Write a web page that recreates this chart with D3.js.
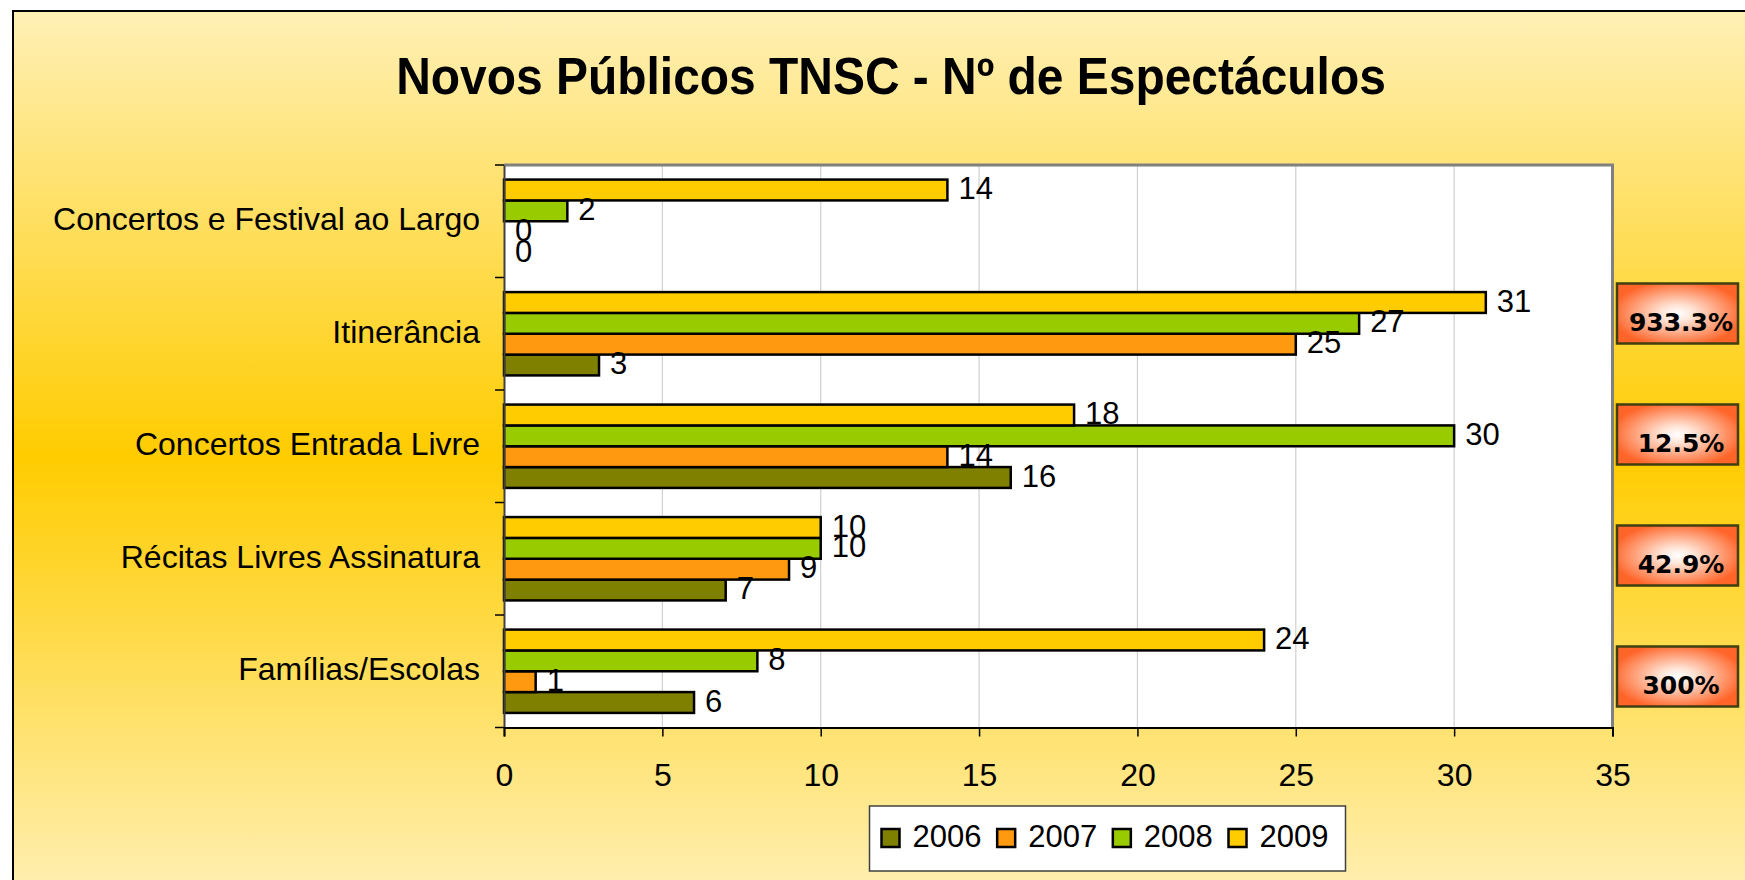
<!DOCTYPE html>
<html>
<head>
<meta charset="utf-8">
<script src="https://cdn.jsdelivr.net/npm/d3@7"></script>
<style>
  html, body { margin: 0; padding: 0; background: #ffffff; }
  svg { display: block; }
</style>
</head>
<body>
<svg id="chart" width="1745" height="880"></svg>
<script>
// ---- data ----
const categories = ["Concertos e Festival ao Largo", "Itinerância", "Concertos Entrada Livre", "Récitas Livres Assinatura", "Famílias/Escolas"];
const seriesNames = ["2006", "2007", "2008", "2009"];
const values2006 = [0, 3, 16, 7, 6];
const values2007 = [0, 25, 14, 9, 1];
const values2008 = [2, 27, 30, 10, 8];
const values2009 = [14, 31, 18, 10, 24];
const xTicks = [0, 5, 10, 15, 20, 25, 30, 35];
const growthLabels = ["933.3%", "12.5%", "42.9%", "300%"];
const title = "Novos Públicos TNSC - Nº de Espectáculos";

const seriesValues = { "2006": values2006, "2007": values2007, "2008": values2008, "2009": values2009 };
const colors = { "2006": "#808000", "2007": "#FF9A10", "2008": "#99CC00", "2009": "#FFCC00" };

const svg = d3.select("#chart");
const defs = svg.append("defs");

// background gradient
const bg = defs.append("linearGradient").attr("id", "bgGrad")
  .attr("x1", 0).attr("y1", 0).attr("x2", 0).attr("y2", 1);
bg.append("stop").attr("offset", "0%").attr("stop-color", "#FFF0B6");
bg.append("stop").attr("offset", "50%").attr("stop-color", "#FFCC00");
bg.append("stop").attr("offset", "100%").attr("stop-color", "#FFF0B6");

// badge gradient
const bd = defs.append("radialGradient").attr("id", "badgeGrad")
  .attr("cx", "50%").attr("cy", "50%").attr("r", "55%");
bd.append("stop").attr("offset", "0%").attr("stop-color", "#FFFFFF");
bd.append("stop").attr("offset", "25%").attr("stop-color", "#FFE4D6");
bd.append("stop").attr("offset", "100%").attr("stop-color", "#FF6428");

// frame
svg.append("rect")
  .attr("x", 13).attr("y", 11).attr("width", 1760).attr("height", 890)
  .attr("fill", "url(#bgGrad)").attr("stroke", "#000").attr("stroke-width", 2);

// title (slightly condensed, as in the reference)
svg.append("text")
  .attr("transform", "translate(891,94) scale(0.94,1)")
  .attr("text-anchor", "middle")
  .attr("font-family", "'Liberation Sans', Arial, sans-serif")
  .attr("font-weight", "bold").attr("font-size", 51)
  .attr("fill", "#000")
  .text(title);

// plot geometry
const plotLeft = 504, plotRight = 1612.5, plotTop = 165, plotBottom = 727.5;

const x = d3.scaleLinear().domain([0, 35]).range([plotLeft, plotRight]);
const yCat = d3.scaleBand().domain(categories).range([plotTop, plotBottom]).padding(0);
const ySer = d3.scaleBand().domain(["2009", "2008", "2007", "2006"])
  .range([0, yCat.bandwidth()]).paddingInner(0).paddingOuter(0.7);

// plot background
svg.append("rect")
  .attr("x", plotLeft).attr("y", plotTop)
  .attr("width", plotRight - plotLeft).attr("height", plotBottom - plotTop)
  .attr("fill", "#fff");

// gridlines
svg.append("g").selectAll("line")
  .data(xTicks.filter(t => t > 0 && t < 35))
  .join("line")
  .attr("x1", d => x(d)).attr("x2", d => x(d))
  .attr("y1", plotTop).attr("y2", plotBottom)
  .attr("stroke", "#D0D0D0").attr("stroke-width", 1.2);

// plot border top & right
svg.append("path")
  .attr("d", `M${plotLeft},${plotTop}H${plotRight}V${plotBottom}`)
  .attr("fill", "none").attr("stroke", "#808080").attr("stroke-width", 3);

// bars
const groups = svg.append("g").selectAll("g")
  .data(categories)
  .join("g")
  .attr("transform", d => `translate(0,${yCat(d)})`);

const barData = (cat, i) => seriesNames.map(s => ({ s, v: seriesValues[s][i] }));

groups.each(function (cat, i) {
  const g = d3.select(this);
  const data = barData(cat, i);
  g.selectAll("rect")
    .data(data)
    .join("rect")
    .attr("x", x(0))
    .attr("y", d => ySer(d.s))
    .attr("width", d => x(d.v) - x(0))
    .attr("height", ySer.bandwidth())
    .attr("fill", d => colors[d.s])
    .attr("stroke", "#000").attr("stroke-width", 2.5);
});

// axes lines
const yAxis = d3.axisLeft(yCat).tickSize(0).tickFormat("");
svg.append("g").attr("transform", `translate(${plotLeft},0)`).call(yAxis)
  .call(g => g.select(".domain").attr("stroke", "#404040").attr("stroke-width", 2));
// category ticks at boundaries
svg.append("g").selectAll("line")
  .data(d3.range(categories.length + 1))
  .join("line")
  .attr("x1", plotLeft - 9).attr("x2", plotLeft)
  .attr("y1", i => plotTop + i * yCat.step()).attr("y2", i => plotTop + i * yCat.step())
  .attr("stroke", "#000").attr("stroke-width", 1.5);

// category labels
svg.append("g").selectAll("text")
  .data(categories)
  .join("text")
  .attr("x", 480)
  .attr("y", d => yCat(d) + yCat.bandwidth() / 2 + 9)
  .attr("text-anchor", "end")
  .attr("font-family", "'Liberation Sans', Arial, sans-serif")
  .attr("font-size", 32)
  .attr("fill", "#000")
  .text(d => d);

// x axis
const xAxis = d3.axisBottom(x).tickValues(xTicks).tickSize(9).tickPadding(27).tickFormat(d3.format("d"));
svg.append("g").attr("transform", `translate(0,${plotBottom})`).call(xAxis)
  .call(g => g.select(".domain").attr("stroke", "#000").attr("stroke-width", 2))
  .call(g => g.selectAll(".tick line").attr("stroke", "#000").attr("stroke-width", 1.5))
  .call(g => g.selectAll(".tick text")
    .attr("font-family", "'Liberation Sans', Arial, sans-serif")
    .attr("font-size", 32).attr("fill", "#000"));

// value labels
groups.each(function (cat, i) {
  const g = d3.select(this);
  const data = barData(cat, i);
  g.selectAll("text.val")
    .data(data)
    .join("text")
    .attr("class", "val")
    .attr("x", d => x(d.v) + 11)
    .attr("y", d => ySer(d.s) + ySer.bandwidth() / 2 + 9)
    .attr("font-family", "'Liberation Sans', Arial, sans-serif")
    .attr("font-size", 31)
    .attr("fill", "#000")
    .text(d => d.v);
});

// growth badges
const yBadge = d3.scaleLinear().domain([0, growthLabels.length - 1]).range([283.5, 646.5]);
const badges = svg.append("g").selectAll("g")
  .data(growthLabels)
  .join("g")
  .attr("transform", (d, i) => `translate(1617,${yBadge(i)})`);
badges.append("rect")
  .attr("width", 121).attr("height", 60)
  .attr("fill", "url(#badgeGrad)")
  .attr("stroke", "#3F3F10").attr("stroke-width", 2.5);
badges.append("text")
  .attr("x", 64).attr("y", 47)
  .attr("text-anchor", "middle")
  .attr("font-family", "'DejaVu Sans', Verdana, sans-serif")
  .attr("font-weight", "bold").attr("font-size", 25)
  .attr("fill", "#000")
  .text(d => d);

// legend
const legend = svg.append("g").attr("transform", "translate(869.5,806)");
legend.append("rect")
  .attr("width", 476).attr("height", 65)
  .attr("fill", "#fff").attr("stroke", "#404040").attr("stroke-width", 1.5);
const legendX = d3.scalePoint().domain(seriesNames).range([12, 359]);
const items = legend.selectAll("g.item")
  .data(seriesNames)
  .join("g").attr("class", "item")
  .attr("transform", d => `translate(${legendX(d)},0)`);
items.append("rect")
  .attr("x", 0).attr("y", 23).attr("width", 18).attr("height", 18)
  .attr("fill", d => colors[d]).attr("stroke", "#000").attr("stroke-width", 2.5);
items.append("text")
  .attr("x", 31).attr("y", 41)
  .attr("font-family", "'Liberation Sans', Arial, sans-serif")
  .attr("font-size", 31).attr("fill", "#000")
  .text(d => d);
</script>
</body>
</html>
